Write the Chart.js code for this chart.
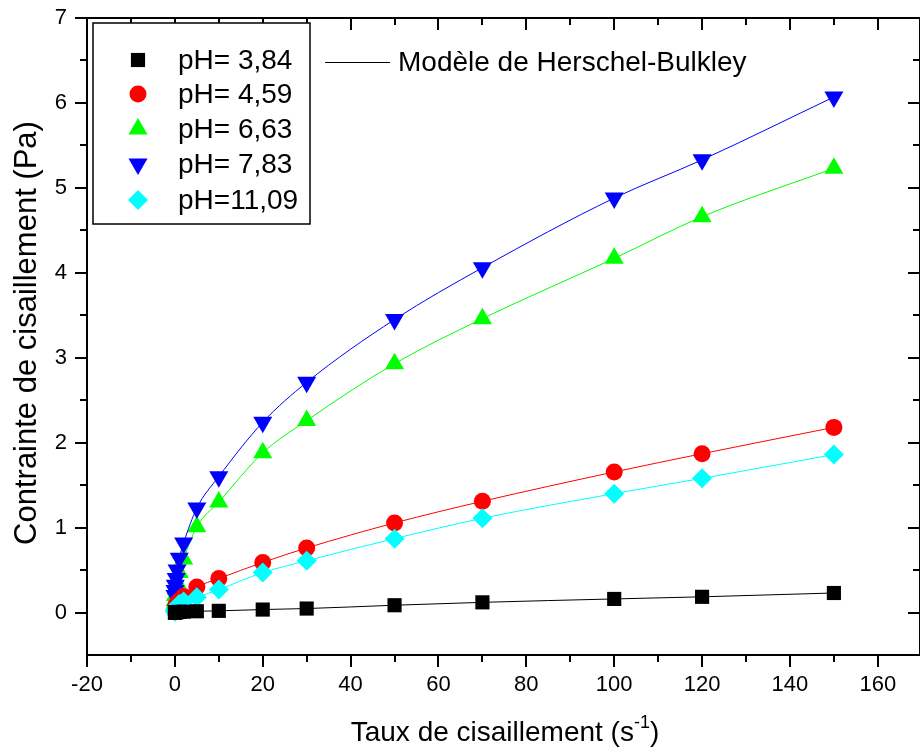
<!DOCTYPE html>
<html>
<head>
<meta charset="utf-8">
<script src="https://cdn.jsdelivr.net/npm/chart.js@4.4.1/dist/chart.umd.min.js"></script>
<style>
  html, body { margin: 0; padding: 0; background: #fff; }
</style>
</head>
<body>
<canvas id="rheoChart" width="920" height="749"></canvas>
<script>
// shear rate (s-1) and shear stress (Pa) for each pH
const shearRate = [0.01, 0.03, 0.1, 0.3, 0.5, 1, 2, 5, 10, 20, 30, 50, 70, 100, 120, 150];
const ph384  = [0, 0, 0, 0.005, 0.005, 0.008, 0.01, 0.015, 0.02, 0.035, 0.047, 0.086, 0.12, 0.16, 0.185, 0.23];
const ph459  = [0.02, 0.04, 0.06, 0.09, 0.11, 0.14, 0.19, 0.30, 0.40, 0.59, 0.76, 1.055, 1.31, 1.655, 1.87, 2.18];
const ph663  = [0.10, 0.14, 0.20, 0.27, 0.35, 0.47, 0.63, 1.01, 1.30, 1.88, 2.26, 2.93, 3.46, 4.17, 4.66, 5.23];
const ph783  = [0.20, 0.26, 0.32, 0.40, 0.50, 0.64, 0.82, 1.23, 1.60, 2.24, 2.71, 3.45, 4.06, 4.88, 5.33, 6.07];
const ph1109 = [0.01, 0.02, 0.03, 0.05, 0.07, 0.10, 0.13, 0.18, 0.27, 0.47, 0.61, 0.87, 1.11, 1.40, 1.58, 1.86];

const seriesLabels = ['pH= 3,84', 'pH= 4,59', 'pH= 6,63', 'pH= 7,83', 'pH=11,09'];
const fitLabel = 'Modèle de Herschel-Bulkley';
const xTickValues = [-20, 0, 20, 40, 60, 80, 100, 120, 140, 160];
const yTickValues = [0, 1, 2, 3, 4, 5, 6, 7];
const xTitle = 'Taux de cisaillement (s';
const xTitleSup = '-1';
const yTitle = 'Contrainte de cisaillement (Pa)';

const FONT = "'Liberation Sans', Arial, sans-serif";
Chart.defaults.font.family = FONT;
Chart.defaults.color = '#000';

function makeSet(label, values, color, style, radius, rotation, order) {
  return {
    label: label,
    data: shearRate.map((x, i) => ({ x: x, y: values[i] })),
    showLine: true,
    borderColor: color,
    borderWidth: 1,
    backgroundColor: color,
    pointBackgroundColor: color,
    pointBorderWidth: 0,
    pointStyle: style,
    pointRadius: radius,
    pointRotation: rotation,
    cubicInterpolationMode: 'monotone',
    order: order
  };
}

const datasets = [
  makeSet(seriesLabels[0], ph384, '#000000', 'rect', 10, 0, 0),
  makeSet(seriesLabels[1], ph459, '#ff0000', 'circle', 8.5, 0, 2),
  makeSet(seriesLabels[2], ph663, '#00ff00', 'triangle', 11, 0, 4),
  makeSet(seriesLabels[3], ph783, '#0000ff', 'triangle', 11, 180, 3),
  makeSet(seriesLabels[4], ph1109, '#00ffff', 'rectRot', 10, 0, 1)
];

function marker(ctx, ds, x, y) {
  ctx.fillStyle = ds.backgroundColor;
  ctx.strokeStyle = ds.backgroundColor;
  Chart.helpers.drawPoint(ctx, {
    pointStyle: ds.pointStyle,
    radius: ds.pointRadius,
    rotation: ds.pointRotation,
    borderWidth: 0
  }, x, y);
}

const framePlugin = {
  id: 'frame',
  afterDraw(chart) {
    const { ctx, chartArea: a, scales: { x, y } } = chart;
    ctx.save();
    ctx.strokeStyle = '#000';
    ctx.lineWidth = 2;
    ctx.strokeRect(a.left, a.top, a.right - a.left, a.bottom - a.top);

    const xMinor = xTickValues.map(v => v + 10).filter(v => v < x.max);
    const yMinor = yTickValues.map(v => v + 0.5).filter(v => v < y.max);
    ctx.beginPath();
    xTickValues.forEach(v => {
      const px = Math.round(x.getPixelForValue(v));
      ctx.moveTo(px, a.bottom); ctx.lineTo(px, a.bottom + 12);
      ctx.moveTo(px, a.top); ctx.lineTo(px, a.top + 12);
    });
    xMinor.forEach(v => {
      const px = Math.round(x.getPixelForValue(v));
      ctx.moveTo(px, a.bottom); ctx.lineTo(px, a.bottom + 7);
      ctx.moveTo(px, a.top); ctx.lineTo(px, a.top + 7);
    });
    yTickValues.forEach(v => {
      const py = Math.round(y.getPixelForValue(v));
      ctx.moveTo(a.left, py); ctx.lineTo(a.left - 12, py);
      ctx.moveTo(a.right, py); ctx.lineTo(a.right - 12, py);
    });
    yMinor.forEach(v => {
      const py = Math.round(y.getPixelForValue(v));
      ctx.moveTo(a.left, py); ctx.lineTo(a.left - 7, py);
      ctx.moveTo(a.right, py); ctx.lineTo(a.right - 7, py);
    });
    ctx.stroke();

    // legend box
    ctx.fillStyle = '#fff';
    ctx.fillRect(93, 23, 217, 201);
    ctx.lineWidth = 1.5;
    ctx.strokeStyle = '#000';
    ctx.strokeRect(93, 23, 217, 201);
    ctx.font = '28px ' + FONT;
    ctx.textBaseline = 'middle';
    ctx.textAlign = 'left';
    const rowY = [60, 94, 129, 164, 200];
    chart.data.datasets.forEach((ds, i) => {
      marker(ctx, ds, 138, rowY[i]);
      ctx.fillStyle = '#000';
      ctx.fillText(ds.label, 178, rowY[i] + 1);
    });

    // fit model entry
    ctx.strokeStyle = '#000';
    ctx.lineWidth = 1;
    ctx.beginPath();
    ctx.moveTo(325, 62.5); ctx.lineTo(390, 62.5);
    ctx.stroke();
    ctx.fillText(fitLabel, 398, 63);

    // axis titles
    ctx.font = '28px ' + FONT;
    ctx.textBaseline = 'alphabetic';
    const wMain = ctx.measureText(xTitle).width;
    ctx.font = '18px ' + FONT;
    const wSup = ctx.measureText(xTitleSup).width;
    ctx.font = '28px ' + FONT;
    const wClose = ctx.measureText(')').width;
    const cx = 505;
    let tx = cx - (wMain + wSup + wClose) / 2;
    ctx.fillText(xTitle, tx, 741);
    tx += wMain;
    ctx.font = '18px ' + FONT;
    ctx.fillText(xTitleSup, tx, 728);
    tx += wSup;
    ctx.font = '28px ' + FONT;
    ctx.fillText(')', tx, 741);

    ctx.font = '31px ' + FONT;
    ctx.translate(27, 333);
    ctx.rotate(-Math.PI / 2);
    ctx.textAlign = 'center';
    ctx.textBaseline = 'middle';
    ctx.fillText(yTitle, 0, 0);
    ctx.restore();
  }
};

new Chart(document.getElementById('rheoChart'), {
  type: 'scatter',
  data: { datasets: datasets },
  options: {
    responsive: false,
    animation: false,
    layout: { autoPadding: false, padding: { top: 18, right: -2, left: 0, bottom: 0 } },
    plugins: {
      legend: { display: false },
      tooltip: { enabled: false }
    },
    scales: {
      x: {
        type: 'linear',
        min: -20,
        max: 169.6,
        grid: { display: false, drawTicks: false },
        border: { display: false },
        ticks: { padding: 17, font: { size: 22 }, maxRotation: 0 },
        afterBuildTicks: s => { s.ticks = xTickValues.map(v => ({ value: v })); },
        afterFit: s => { s.height = 94; s.paddingLeft = 0; s.paddingRight = 0; }
      },
      y: {
        type: 'linear',
        min: -0.5,
        max: 7,
        grid: { display: false, drawTicks: false },
        border: { display: false },
        ticks: { padding: 20, font: { size: 22 } },
        afterBuildTicks: s => { s.ticks = yTickValues.map(v => ({ value: v })); },
        afterFit: s => { s.width = 87; s.paddingTop = 0; s.paddingBottom = 0; }
      }
    }
  },
  plugins: [framePlugin]
});
</script>
</body>
</html>
